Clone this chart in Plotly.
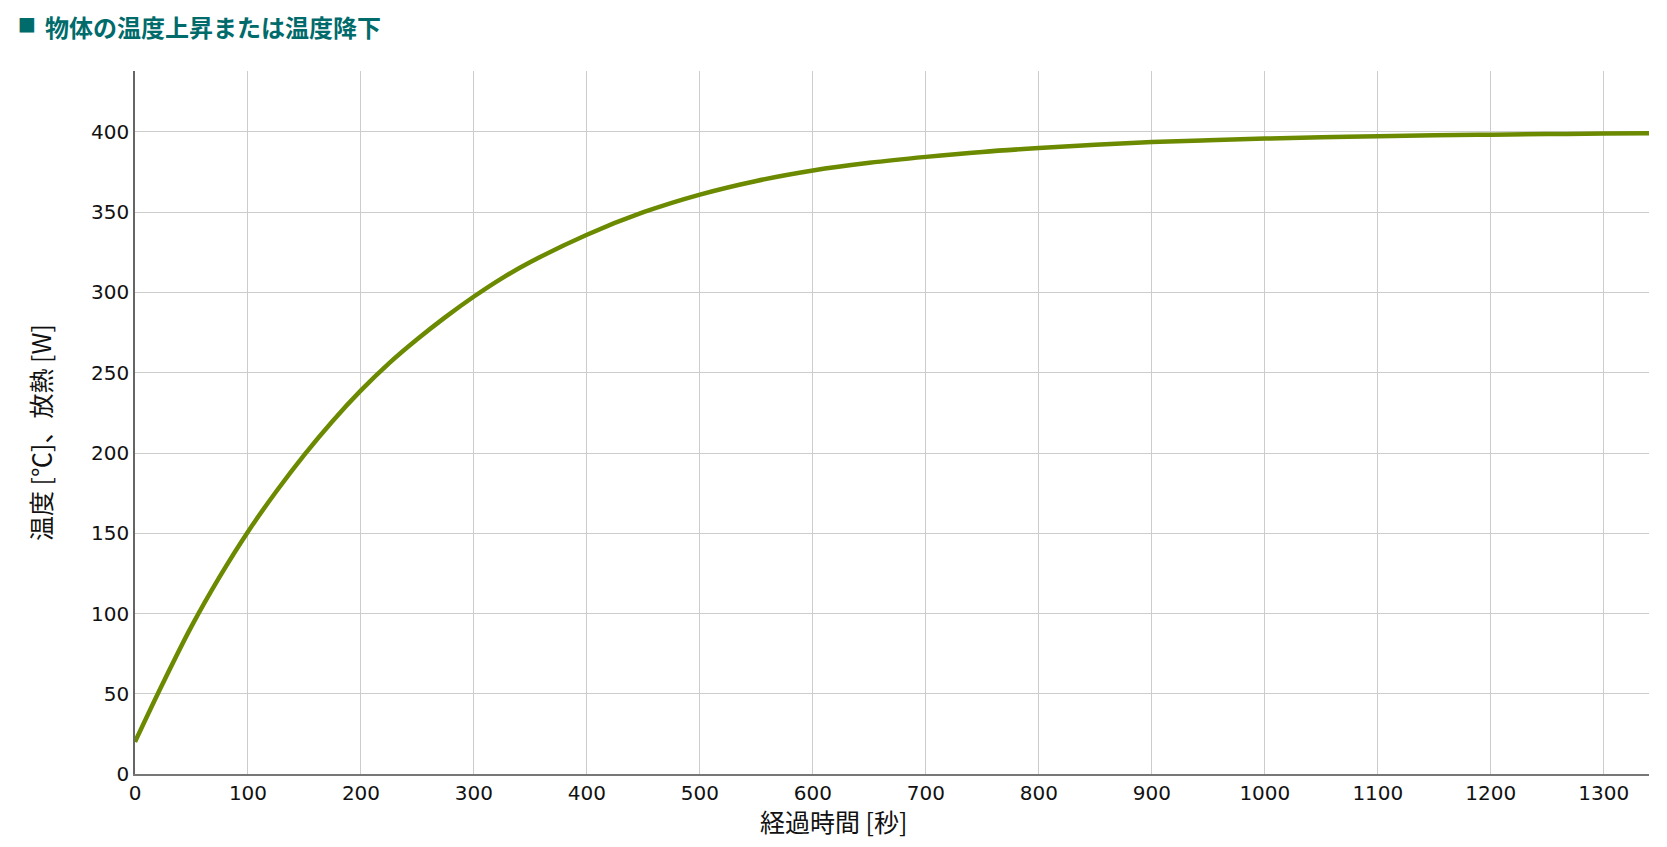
import plotly.graph_objects as go

# Data
time_s = [0, 25, 50, 75, 100, 125, 150, 175, 200, 225, 250, 275, 300, 325, 350, 400, 450, 500,
          550, 600, 650, 700, 750, 800, 850, 900, 950, 1000, 1050, 1100, 1150,
          1200, 1250, 1300, 1340]
temperature = [20, 57, 92, 123, 151, 176, 199, 220, 239, 256, 271, 284.8, 297.5, 309, 319, 336, 350, 361,
               369.5, 376, 380.8, 384.5, 387.6, 390, 392, 393.7, 394.9, 395.9, 396.7,
               397.4, 397.9, 398.3, 398.7, 399, 399.2]

title_mark = "■"
title_text = "物体の温度上昇または温度降下"
x_title = "経過時間 [秒]"
y_title = "温度 [℃]、放熱 [W]"
x_ticks = list(range(0, 1301, 100))
y_ticks = list(range(0, 401, 50))

W, H = 1667, 847
ML, MR, MT, MB = 127, 26, 63, 81
PW, PH = W - ML - MR, H - MT - MB

def px_x(px):
    return (px - ML) / PW

def px_y(py):
    return 1 - (py - MT) / PH

fig = go.Figure()
fig.add_trace(go.Scatter(
    x=time_s, y=temperature, mode="lines",
    line=dict(color="#6b8a00", width=4.5, shape="spline", smoothing=1.0),
    showlegend=False, hoverinfo="x+y",
))

tick_font = dict(family="DejaVu Sans, Verdana, sans-serif", size=20, color="#111111")
cjk_font = dict(family="Noto Sans CJK JP, sans-serif", size=25, color="#111111")

fig.update_layout(
    width=W, height=H,
    margin=dict(l=ML, r=MR, t=MT, b=MB),
    paper_bgcolor="white", plot_bgcolor="white",
    xaxis=dict(
        range=[0, 1340], tickmode="array", tickvals=x_ticks,
        showgrid=True, gridcolor="#cccccc", gridwidth=1,
        showline=True, linecolor="#777777", linewidth=1.5,
        zeroline=False, ticks="", tickfont=tick_font,
    ),
    yaxis=dict(
        range=[0, 438], tickmode="array", tickvals=y_ticks,
        showgrid=True, gridcolor="#cccccc", gridwidth=1,
        showline=True, linecolor="#666666", linewidth=1.5,
        zeroline=False, ticks="", tickfont=tick_font,
    ),
    annotations=[
        dict(text=title_mark, xref="paper", yref="paper", x=px_x(19), y=px_y(15),
             xanchor="center", yanchor="middle", showarrow=False, borderpad=0,
             font=dict(family="DejaVu Sans, sans-serif", size=19, color="#006b6b")),
        dict(text=title_text, xref="paper", yref="paper", x=px_x(36), y=px_y(18),
             xanchor="left", yanchor="middle", showarrow=False, borderpad=0,
             font=dict(family="Noto Sans CJK JP, sans-serif", size=24, color="#006b6b", weight="bold")),
        dict(text=x_title, xref="paper", yref="paper", x=px_x(826), y=px_y(813),
             xanchor="center", yanchor="middle", showarrow=False, font=cjk_font),
        dict(text=y_title, xref="paper", yref="paper", x=px_x(32), y=px_y(425),
             xanchor="center", yanchor="middle", showarrow=False, textangle=-90, font=cjk_font),
    ],
)

fig.write_html("out.html")
